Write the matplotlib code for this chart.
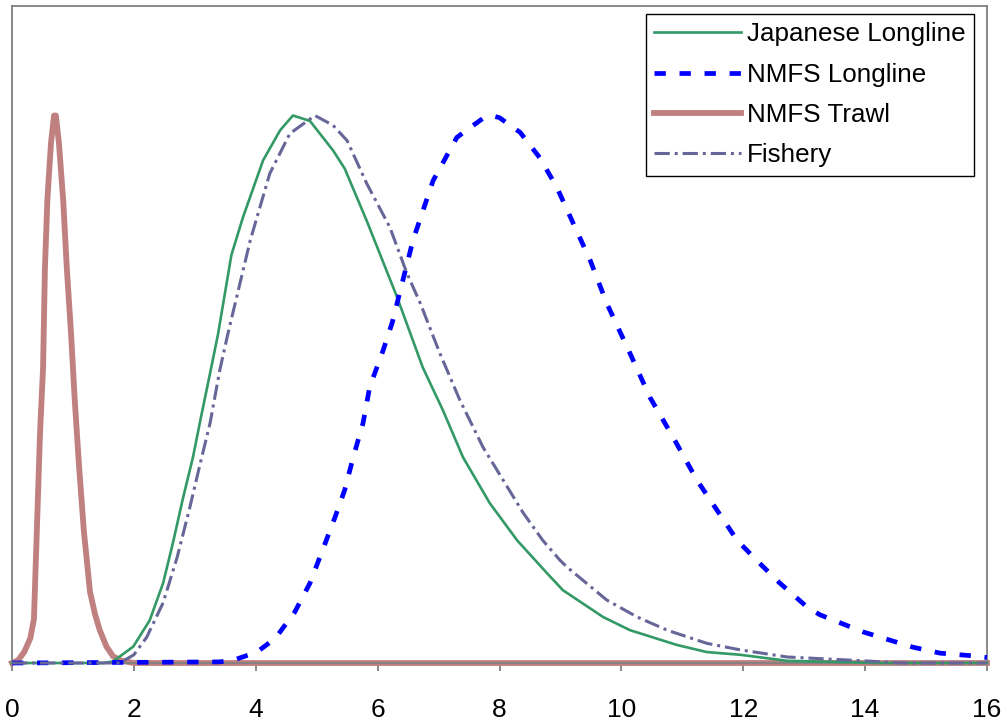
import matplotlib
matplotlib.use("Agg")
import matplotlib.pyplot as plt

plt.rcParams['font.family'] = ['Liberation Sans', 'DejaVu Sans']

# Japanese Longline
jll_x = [0, 1.5, 1.66, 1.99, 2.26, 2.48, 2.64, 2.81, 2.97, 3.09, 3.25, 3.38, 3.60, 3.79, 4.12, 4.40,
         4.61, 4.89, 5.27, 5.46, 5.82, 6.32, 6.74, 7.07, 7.40, 7.84, 8.29, 8.78, 9.04, 9.70, 10.14,
         10.91, 11.4, 11.95, 12.72, 13.5, 14.2, 16]
jll_y = [0, 0, 0.003, 0.03, 0.078, 0.146, 0.219, 0.303, 0.376, 0.443, 0.529, 0.600, 0.745, 0.814, 0.918, 0.973,
         1.0, 0.99, 0.936, 0.903, 0.808, 0.668, 0.540, 0.462, 0.376, 0.292, 0.224, 0.164, 0.133, 0.084, 0.06,
         0.033, 0.02, 0.015, 0.004, 0.002, 0, 0]

# NMFS Longline
nll_x = [0, 3.4, 3.63, 4.02, 4.32, 4.64, 4.89, 5.14, 5.30, 5.46, 5.60, 5.76, 5.87, 6.09, 6.24, 6.58,
         6.91, 7.30, 7.73, 7.87, 8.0, 8.34, 8.66, 8.94, 9.21, 9.49, 9.76, 10.14, 10.47, 10.85, 11.24,
         11.57, 11.90, 12.27, 12.60, 13.05, 13.26, 13.96, 14.78, 15.23, 15.77, 16.0]
nll_y = [0, 0.002, 0.005, 0.02, 0.045, 0.093, 0.146, 0.219, 0.266, 0.316, 0.376, 0.438, 0.504, 0.571, 0.622, 0.772,
         0.881, 0.96, 0.995, 1.0, 0.996, 0.969, 0.923, 0.869, 0.803, 0.735, 0.657, 0.566, 0.485, 0.412, 0.334,
         0.279, 0.224, 0.182, 0.146, 0.102, 0.088, 0.057, 0.029, 0.018, 0.013, 0.01]

# NMFS Trawl
trw_x = [0, 0.1, 0.2, 0.3, 0.36, 0.41, 0.46, 0.51, 0.54, 0.58, 0.64, 0.69, 0.72, 0.77, 0.84, 0.90,
         0.97, 1.03, 1.10, 1.18, 1.28, 1.36, 1.44, 1.55, 1.66, 1.8, 2.0, 16]
trw_y = [0, 0.005, 0.02, 0.045, 0.08, 0.25, 0.42, 0.54, 0.72, 0.845, 0.95, 1.0, 1.0, 0.95, 0.845, 0.72,
         0.60, 0.48, 0.36, 0.24, 0.13, 0.09, 0.06, 0.03, 0.012, 0.004, 0, 0]

# Fishery
fsh_x = [0, 1.77, 2.0, 2.21, 2.48, 2.71, 2.92, 3.09, 3.25, 3.41, 3.54, 3.91, 4.23, 4.56, 4.97, 5.27,
         5.50, 5.82, 6.20, 6.48, 6.70, 7.02, 7.35, 7.73, 8.06, 8.39, 8.71, 8.99, 9.11, 9.76, 10.26,
         10.75, 11.4, 11.95, 12.72, 13.97, 14.6, 16]
fsh_y = [0, 0, 0.015, 0.047, 0.11, 0.193, 0.285, 0.365, 0.438, 0.535, 0.60, 0.772, 0.894, 0.967, 1.0, 0.982,
         0.954, 0.876, 0.796, 0.712, 0.657, 0.566, 0.480, 0.394, 0.334, 0.274, 0.224, 0.188, 0.175, 0.115, 0.084,
         0.06, 0.036, 0.024, 0.011, 0.004, 0, 0]

labels = ["Japanese Longline", "NMFS Longline", "NMFS Trawl", "Fishery"]
xticks = [0, 2, 4, 6, 8, 10, 12, 14, 16]

fig = plt.figure(figsize=(10.08, 7.25), dpi=100)
ax = fig.add_axes([12/1008, 1 - 663/725, (987 - 12)/1008, (663 - 6)/725])

l1, = ax.plot(jll_x, jll_y, color='#339966', lw=1.9, label=labels[0], clip_on=False, zorder=3)
l2, = ax.plot(nll_x, nll_y, color='#0000FF', lw=3.4, label=labels[1], clip_on=False, zorder=4,
              dash_capstyle='butt')
l2.set_dashes([2.4, 2.9])
l3, = ax.plot(trw_x, trw_y, color='#C08080', lw=4.2, label=labels[2], clip_on=False, zorder=2)
l4, = ax.plot(fsh_x, fsh_y, color='#666699', lw=2.2, label=labels[3], clip_on=False, zorder=5,
              dash_capstyle='butt')
l4.set_dashes([5.0, 1.6, 1.0, 1.6])

ax.set_xlim(0, 16)
ax.set_ylim(0, 1.2)
ax.set_xticks(xticks)
ax.set_xticklabels([str(t) for t in xticks])
ax.set_yticks([])
for s in ax.spines.values():
    s.set_color('#808080')
    s.set_linewidth(1.3)
ax.tick_params(axis='x', direction='out', length=6, width=1.3, color='#808080',
               labelsize=19, pad=19, labelcolor='black')

leg = ax.legend(loc='upper right', bbox_to_anchor=(974/1008, 1 - 14/725),
                bbox_transform=fig.transFigure, borderaxespad=0, fontsize=18.7,
                frameon=True, fancybox=False, edgecolor='black', framealpha=1,
                handlelength=3.35, handletextpad=0.23, labelspacing=0.63, borderpad=0.32)
leg.get_frame().set_linewidth(1.0)

fig.savefig('out.png', dpi=100)
